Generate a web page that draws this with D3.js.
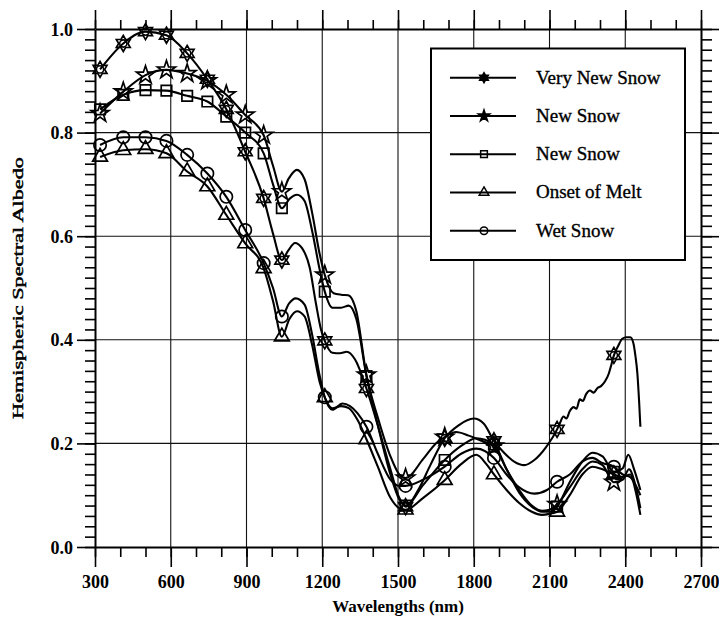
<!DOCTYPE html>
<html>
<head>
<meta charset="utf-8">
<script src="https://cdn.jsdelivr.net/npm/d3@7"></script>
<style>
  html, body { margin: 0; padding: 0; background: #fff; }
  svg { display: block; }
  text { font-family: "Liberation Serif", "Times New Roman", serif; fill: #000; }
</style>
</head>
<body>
<svg id="chart" width="719" height="619"></svg>
<script>
// Spectral albedo of snow, 300–2500 nm
const seriesNames = ["Very New Snow", "New Snow", "New Snow", "Onset of Melt", "Wet Snow"];
const markerTypes = ["hexagram", "star", "square", "triangle", "circle"];

// wavelengths (nm) where symbols are placed along each curve
const markerWavelengths = [320, 412, 500, 583, 665, 745, 820, 895, 968, 1040, 1210, 1375, 1530, 1685, 1880, 2130, 2355];

const veryNewSnow = [
  [320,.922],[412,.972],[500,.995],[583,.988],[665,.953],[745,.903],[820,.845],[895,.763],
  [968,.673],[1005,.605],[1040,.554],[1065,.572],[1092,.587],[1120,.577],[1150,.54],[1175,.47],
  [1195,.42],[1210,.398],[1240,.375],[1270,.374],[1297,.377],[1330,.362],[1375,.306],[1420,.235],
  [1470,.15],[1505,.095],[1530,.078],[1580,.11],[1630,.16],[1685,.21],[1740,.235],[1800,.248],
  [1840,.238],[1880,.205],[1920,.182],[1960,.165],[2000,.158],[2040,.168],[2085,.192],[2130,.227],
  [2142,.24],[2155,.252],[2167,.248],[2180,.262],[2195,.27],[2207,.267],[2220,.285],[2232,.282],
  [2245,.295],[2260,.302],[2275,.298],[2290,.307],[2305,.311],[2320,.32],[2335,.335],[2345,.352],
  [2355,.37],[2372,.388],[2388,.402],[2405,.405],[2420,.405],[2432,.394],[2440,.37],[2448,.335],
  [2455,.28],[2460,.232]
];
const newSnowA = [
  [320,.837],[412,.879],[500,.911],[583,.921],[665,.914],[745,.90],[820,.873],[895,.834],
  [968,.795],[1005,.736],[1040,.686],[1068,.712],[1099,.728],[1130,.71],[1160,.645],[1190,.565],
  [1210,.525],[1245,.49],[1275,.487],[1303,.486],[1335,.455],[1375,.332],[1420,.25],[1470,.175],
  [1505,.14],[1530,.133],[1600,.17],[1650,.2],[1685,.212],[1730,.222],[1780,.215],[1830,.205],
  [1880,.195],[1930,.15],[1980,.11],[2030,.08],[2070,.07],[2100,.072],[2130,.082],[2180,.115],
  [2230,.15],[2270,.165],[2310,.158],[2355,.125],[2390,.13],[2415,.15],[2440,.12],[2460,.075]
];
const newSnowB = [
  [320,.845],[412,.873],[500,.882],[583,.881],[665,.871],[745,.86],[820,.831],[895,.80],
  [968,.76],[1005,.70],[1040,.654],[1070,.672],[1100,.68],[1130,.668],[1160,.61],[1190,.535],
  [1210,.493],[1240,.462],[1275,.462],[1305,.466],[1335,.44],[1375,.33],[1420,.235],[1470,.14],
  [1505,.092],[1530,.08],[1600,.12],[1685,.168],[1750,.195],[1810,.21],[1880,.198],[1930,.15],
  [1980,.105],[2030,.078],[2070,.068],[2100,.068],[2130,.078],[2180,.125],[2230,.165],[2270,.182],
  [2310,.175],[2355,.145],[2390,.152],[2412,.178],[2435,.15],[2460,.11]
];
const onsetOfMelt = [
  [320,.753],[412,.766],[500,.768],[583,.76],[665,.725],[745,.696],[820,.641],[895,.586],
  [968,.538],[1005,.475],[1040,.406],[1070,.44],[1100,.455],[1130,.445],[1160,.39],[1190,.318],
  [1210,.289],[1240,.268],[1275,.272],[1305,.268],[1340,.245],[1375,.208],[1420,.155],[1470,.095],
  [1505,.075],[1530,.072],[1600,.095],[1685,.129],[1750,.16],[1810,.178],[1850,.16],[1880,.14],
  [1930,.11],[1980,.085],[2030,.068],[2070,.062],[2100,.064],[2130,.068],[2180,.10],[2230,.14],
  [2270,.155],[2310,.15],[2355,.14],[2390,.135],[2420,.14],[2440,.11],[2460,.062]
];
const wetSnow = [
  [320,.776],[412,.791],[500,.791],[583,.784],[665,.757],[745,.721],[820,.676],[895,.612],
  [968,.548],[1005,.50],[1040,.445],[1068,.47],[1095,.48],[1130,.468],[1160,.41],[1190,.33],
  [1210,.289],[1240,.265],[1280,.277],[1310,.272],[1340,.258],[1375,.232],[1420,.18],[1470,.13],
  [1505,.118],[1530,.118],[1600,.13],[1685,.155],[1750,.18],[1810,.19],[1880,.172],[1930,.14],
  [1980,.115],[2040,.103],[2090,.11],[2130,.126],[2180,.14],[2230,.165],[2270,.172],[2310,.162],
  [2355,.155],[2390,.14],[2420,.135],[2440,.12],[2460,.10]
];
const seriesValues = [veryNewSnow, newSnowA, newSnowB, onsetOfMelt, wetSnow];

const xMajorTicks = [300, 600, 900, 1200, 1500, 1800, 2100, 2400, 2700];
const yMajorTicks = [0, 0.2, 0.4, 0.6, 0.8, 1.0];
const yTickLabels = ["0.0", "0.2", "0.4", "0.6", "0.8", "1.0"];

const svg = d3.select("#chart");
const plotLeft = 95, plotRight = 701, plotTop = 29, plotBottom = 547;

const x = d3.scaleLinear().domain([300, 2700]).range([plotLeft, plotRight]);
const y = d3.scaleLinear().domain([0, 1]).range([plotBottom, plotTop]);

const xMinor = d3.range(300, 2701, 100);
const yMinor = d3.range(0, 1.0001, 0.02).map(v => +v.toFixed(2));

// grid
const grid = svg.append("g").attr("stroke", "#111").attr("stroke-width", 1.1);
grid.selectAll(".gx").data(xMajorTicks.slice(1, -1)).join("line")
  .attr("x1", d => x(d)).attr("x2", d => x(d)).attr("y1", plotTop).attr("y2", plotBottom);
grid.selectAll(".gy").data(yMajorTicks.slice(1, -1)).join("line")
  .attr("x1", plotLeft).attr("x2", plotRight).attr("y1", d => y(d)).attr("y2", d => y(d));

function styleAxis(g) {
  g.select(".domain").attr("stroke", "#000").attr("stroke-width", 2);
  g.selectAll(".tick line").attr("stroke", "#000").attr("stroke-width", 1.6);
}

// bottom axis
const gb = svg.append("g").attr("transform", `translate(0,${plotBottom})`);
gb.call(d3.axisBottom(x).tickValues(xMinor).tickSize(10).tickFormat("").tickSizeOuter(0)).call(styleAxis);
const gbM = svg.append("g").attr("transform", `translate(0,${plotBottom})`);
gbM.call(d3.axisBottom(x).tickValues(xMajorTicks).tickSize(20).tickFormat(d3.format("d")).tickSizeOuter(0)).call(styleAxis);
gbM.select(".domain").remove();
gbM.selectAll(".tick text").attr("y", 41).attr("dy", null)
  .style("font-size", "18px").style("font-weight", "bold")
  .style("font-family", '"Liberation Serif", serif');

// top axis
const gt = svg.append("g").attr("transform", `translate(0,${plotTop})`);
gt.call(d3.axisTop(x).tickValues(xMinor).tickSize(9).tickFormat("").tickSizeOuter(0)).call(styleAxis);
const gtM = svg.append("g").attr("transform", `translate(0,${plotTop})`);
gtM.call(d3.axisTop(x).tickValues(xMajorTicks).tickSize(19).tickFormat("").tickSizeOuter(0)).call(styleAxis);
gtM.select(".domain").remove();

// left axis
const gl = svg.append("g").attr("transform", `translate(${plotLeft},0)`);
gl.call(d3.axisLeft(y).tickValues(yMinor).tickSize(10).tickFormat("").tickSizeOuter(0)).call(styleAxis);
const glM = svg.append("g").attr("transform", `translate(${plotLeft},0)`);
glM.call(d3.axisLeft(y).tickValues(yMajorTicks).tickSize(18)
  .tickFormat((d, i) => yTickLabels[i]).tickSizeOuter(0)).call(styleAxis);
glM.select(".domain").remove();
glM.selectAll(".tick text").attr("x", -22).attr("dy", "0.34em")
  .style("font-size", "18px").style("font-weight", "bold")
  .style("font-family", '"Liberation Serif", serif');

// right axis
const gr = svg.append("g").attr("transform", `translate(${plotRight},0)`);
gr.call(d3.axisRight(y).tickValues(yMinor).tickSize(11).tickFormat("").tickSizeOuter(0)).call(styleAxis);
const grM = svg.append("g").attr("transform", `translate(${plotRight},0)`);
grM.call(d3.axisRight(y).tickValues(yMajorTicks).tickSize(20).tickFormat("").tickSizeOuter(0)).call(styleAxis);
grM.select(".domain").remove();

// axis titles
svg.append("text").attr("x", (plotLeft + plotRight) / 2).attr("y", 612)
  .attr("text-anchor", "middle").style("font-size", "17px").style("font-weight", "bold")
  .text("Wavelengths (nm)");
svg.append("text").attr("transform", `translate(23,${(plotTop + plotBottom) / 2}) rotate(-90)`)
  .attr("text-anchor", "middle").style("font-size", "15px")
  .attr("stroke", "#000").attr("stroke-width", 0.45)
  .attr("textLength", 262).attr("lengthAdjust", "spacingAndGlyphs")
  .text("Hemispheric Spectral Albedo");

// curves
const line = d3.line().x(d => x(d[0])).y(d => y(d[1])).curve(d3.curveMonotoneX);
const curves = svg.append("g").attr("fill", "none").attr("stroke", "#000")
  .attr("stroke-width", 2.1).attr("stroke-linejoin", "round");
seriesValues.forEach(s => curves.append("path").attr("d", line(s)));

// symbol paths
function hexagram(R) {
  const pts = [];
  for (let k = 0; k < 12; k++) {
    const r = k % 2 === 0 ? R : R * 0.577;
    const a = (-90 + k * 30) * Math.PI / 180;
    pts.push([r * Math.cos(a), r * Math.sin(a)]);
  }
  return "M" + pts.map(p => p[0].toFixed(2) + "," + p[1].toFixed(2)).join("L") + "Z";
}
function symbolPath(type, big) {
  switch (type) {
    case "hexagram": return hexagram(big ? 8 : 5);
    case "star": return d3.symbol(d3.symbolStar, big ? 100 : 40)();
    case "square": return d3.symbol(d3.symbolSquare, big ? 110 : 45)();
    case "triangle": return d3.symbol(d3.symbolTriangle, big ? 95 : 40)();
    default: return d3.symbol(d3.symbolCircle, big ? 120 : 45)();
  }
}
function drawMarker(g, type, cx, cy, big) {
  const m = g.append("g").attr("transform", `translate(${cx},${cy})`);
  const filledLegend = !big && (type === "hexagram" || type === "star");
  m.append("path").attr("d", symbolPath(type, big))
    .attr("fill", filledLegend ? "#000" : "none")
    .attr("stroke", "#000").attr("stroke-width", big ? 1.7 : 1.5);
  if (type === "hexagram" && big) {
    m.append("circle").attr("r", 3.6).attr("fill", "none").attr("stroke", "#000").attr("stroke-width", 1.6);
  }
}

const markers = svg.append("g");
const mSet = new Set(markerWavelengths);
seriesValues.forEach((s, i) => {
  s.filter(d => mSet.has(d[0])).forEach(d => drawMarker(markers, markerTypes[i], x(d[0]), y(d[1]), true));
});

// legend
const lg = svg.append("g");
lg.append("rect").attr("x", 431).attr("y", 48.5).attr("width", 254).attr("height", 211.5)
  .attr("fill", "#fff").attr("stroke", "#000").attr("stroke-width", 2);
seriesNames.forEach((name, i) => {
  const ly = 77.7 + i * 38.25;
  lg.append("line").attr("x1", 450).attr("x2", 516).attr("y1", ly).attr("y2", ly)
    .attr("stroke", "#000").attr("stroke-width", 2);
  drawMarker(lg, markerTypes[i], 484, ly, false);
  lg.append("text").attr("x", 536).attr("y", ly + 6).style("font-size", "19px")
    .attr("stroke", "#000").attr("stroke-width", 0.35)
    .text(name);
});
</script>
</body>
</html>
